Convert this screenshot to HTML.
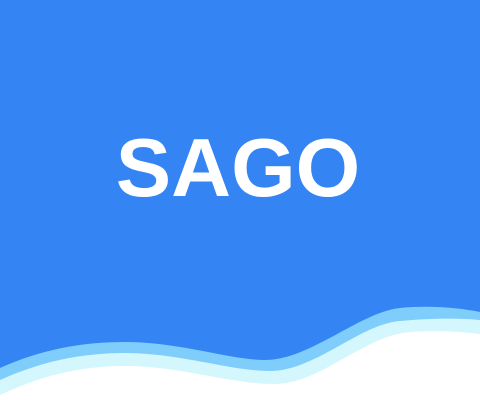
<!DOCTYPE html>
<html><head><meta charset="utf-8"><style>
html,body{margin:0;padding:0;width:480px;height:400px;overflow:hidden;background:#3584f4}
svg{display:block}
</style></head><body>
<svg width="480" height="400" viewBox="0 0 480 400">
<rect width="480" height="400" fill="#3584f4"/>
<text x="238" y="196" text-anchor="middle" font-family="Liberation Sans, sans-serif" font-weight="bold" font-size="83" fill="#ffffff">SAGO</text>
<path d="M0,368 C40,350 80,342 125,342 C180,342 230,360 265,360 C310,360 360,312 400,308 C430,305 460,308 480,312 L480,400 L0,400 Z" fill="#7ecdfb"/>
<path d="M0,380 C40,362 80,353 125,353 C180,353 230,371 270,371 C315,371 360,324 400,321 C430,318 460,318 480,320 L480,400 L0,400 Z" fill="#d4f6fd"/>
<path d="M0,395 C40,376 80,366 125,366 C180,366 230,384 275,384 C320,384 365,335 410,332 C440,330 460,332 480,334 L480,400 L0,400 Z" fill="#ffffff"/>
</svg>
</body></html>
